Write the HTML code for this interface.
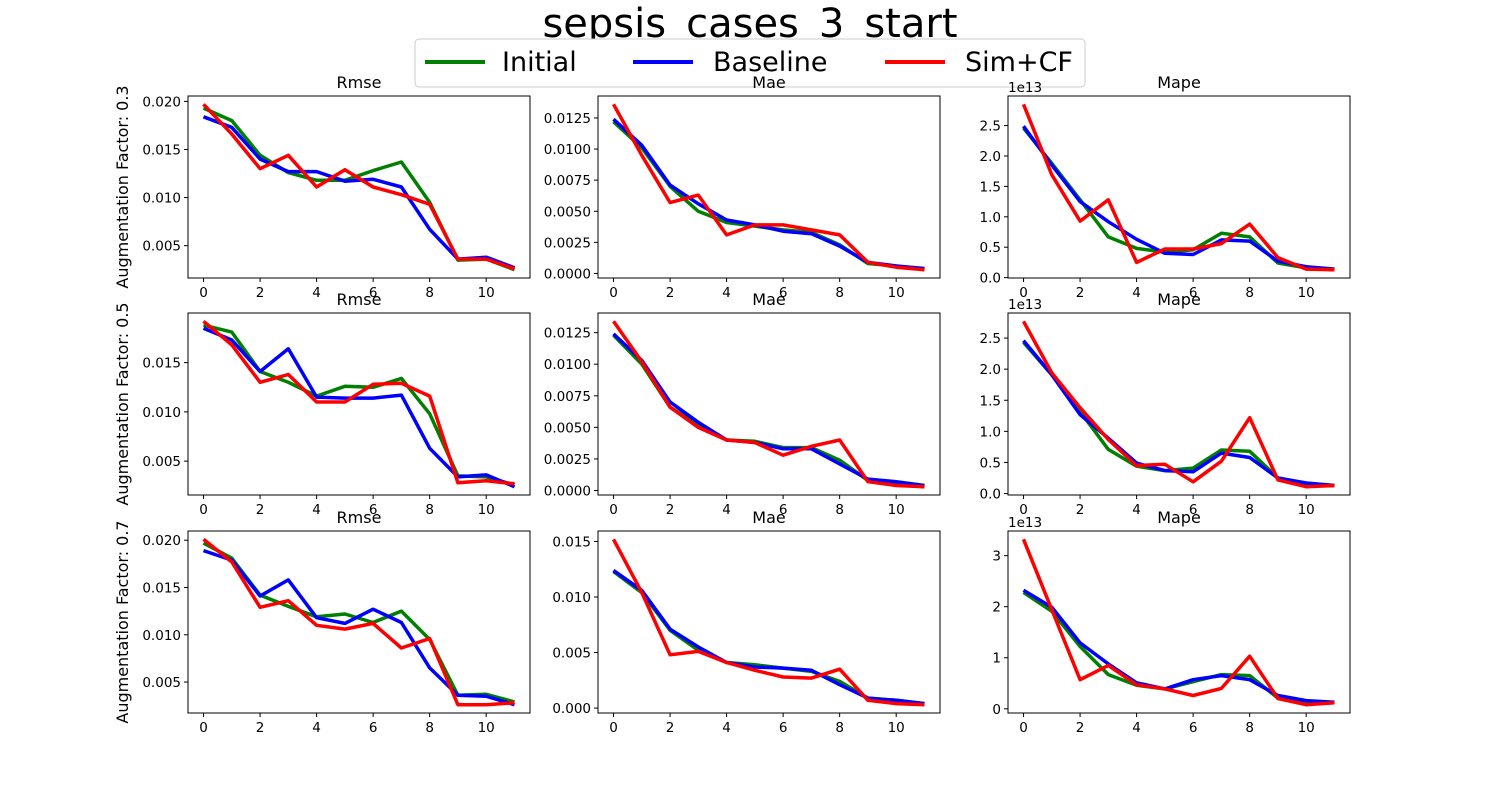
<!DOCTYPE html>
<html><head><meta charset="utf-8"><style>
html,body{margin:0;padding:0;background:#fff;}
svg{display:block;font-family:"DejaVu Sans","Liberation Sans",sans-serif;}
</style></head><body>
<svg id="fig" width="1500" height="800" viewBox="0 0 1500 800">
<text x="750" y="37" text-anchor="middle" font-size="40">sepsis_cases_3_start</text>
<g>
<rect x="415" y="39" width="670" height="48" rx="4" fill="#fff" stroke="#ccc"/>
<g><line x1="425" y1="62" x2="485" y2="62" stroke="green" stroke-width="4"/><text x="502" y="71" font-size="27">Initial</text></g>
<g><line x1="633" y1="62" x2="693" y2="62" stroke="blue" stroke-width="4"/><text x="713" y="71" font-size="27">Baseline</text></g>
<g><line x1="885" y1="62" x2="945" y2="62" stroke="red" stroke-width="4"/><text x="965" y="71" font-size="27">Sim+CF</text></g>
</g>
</svg>
<script>
const xCats=[0,1,2,3,4,5,6,7,8,9,10,11];
const xTicks=[0,2,4,6,8,10];
const rowLabels=["Augmentation Factor: 0.3","Augmentation Factor: 0.5","Augmentation Factor: 0.7"];
const colTitles=["Rmse","Mae","Mape"];
// Row 0.3
const rmse3Init=[0.0193,0.0180,0.0144,0.0126,0.0118,0.0118,0.0128,0.0137,0.0095,0.0035,0.0036,0.0025];
const rmse3Base=[0.0184,0.0173,0.0140,0.0127,0.0127,0.0117,0.0119,0.0111,0.0067,0.0036,0.0038,0.0027];
const rmse3Sim=[0.0197,0.0166,0.0130,0.0144,0.0111,0.0129,0.0111,0.0103,0.0093,0.0036,0.0036,0.0026];
const mae3Init=[0.0122,0.0101,0.0070,0.0050,0.0041,0.0038,0.0035,0.0033,0.0023,0.0008,0.0006,0.0003];
const mae3Base=[0.0124,0.0103,0.0071,0.0056,0.0043,0.0039,0.0034,0.0032,0.0022,0.0009,0.0006,0.0004];
const mae3Sim=[0.0136,0.0095,0.0057,0.0063,0.0031,0.0039,0.0039,0.0035,0.0031,0.0009,0.0005,0.0003];
const mape3Init=[2.46,1.88,1.28,0.67,0.48,0.42,0.46,0.73,0.67,0.24,0.16,0.13];
const mape3Base=[2.49,1.85,1.25,0.92,0.63,0.40,0.38,0.62,0.60,0.27,0.18,0.14];
const mape3Sim=[2.85,1.69,0.93,1.28,0.25,0.47,0.47,0.56,0.88,0.33,0.14,0.13];
// Row 0.5
const rmse5Init=[0.0188,0.0181,0.0141,0.0130,0.0116,0.0126,0.0125,0.0134,0.0098,0.0035,0.0034,0.0026];
const rmse5Base=[0.0185,0.0173,0.0141,0.0164,0.0115,0.0114,0.0114,0.0117,0.0063,0.0034,0.0036,0.0024];
const rmse5Sim=[0.0192,0.0168,0.0130,0.0138,0.0110,0.0110,0.0128,0.0129,0.0116,0.0028,0.0030,0.0027];
const mae5Init=[0.0123,0.0100,0.0066,0.0052,0.0040,0.0039,0.0034,0.0034,0.0024,0.0008,0.0005,0.0003];
const mae5Base=[0.0124,0.0103,0.0070,0.0054,0.0040,0.0038,0.0033,0.0033,0.0021,0.0009,0.0007,0.0004];
const mae5Sim=[0.0134,0.0102,0.0066,0.0050,0.0040,0.0038,0.0028,0.0035,0.0040,0.0007,0.0004,0.0003];
const mape5Init=[2.43,1.91,1.32,0.71,0.44,0.37,0.41,0.70,0.68,0.25,0.16,0.13];
const mape5Base=[2.46,1.91,1.27,0.89,0.49,0.37,0.35,0.65,0.58,0.25,0.17,0.13];
const mape5Sim=[2.77,1.94,1.38,0.87,0.45,0.47,0.19,0.52,1.22,0.22,0.11,0.13];
// Row 0.7
const rmse7Init=[0.0197,0.0181,0.0142,0.0130,0.0119,0.0122,0.0113,0.0125,0.0095,0.0036,0.0037,0.0029];
const rmse7Base=[0.0189,0.0179,0.0141,0.0158,0.0118,0.0112,0.0127,0.0113,0.0065,0.0036,0.0035,0.0026];
const rmse7Sim=[0.0201,0.0177,0.0129,0.0136,0.0110,0.0106,0.0112,0.0086,0.0096,0.0026,0.0026,0.0028];
const mae7Init=[0.0123,0.0104,0.0070,0.0052,0.0041,0.0039,0.0036,0.0033,0.0024,0.0009,0.0007,0.0004];
const mae7Base=[0.0124,0.0106,0.0071,0.0055,0.0041,0.0037,0.0036,0.0034,0.0021,0.0009,0.0007,0.0004];
const mae7Sim=[0.0152,0.0104,0.0048,0.0051,0.0041,0.0034,0.0028,0.0027,0.0035,0.0007,0.0004,0.0003];
const mape7Init=[2.28,1.91,1.22,0.67,0.46,0.39,0.53,0.67,0.65,0.21,0.15,0.12];
const mape7Base=[2.32,1.99,1.29,0.88,0.51,0.39,0.57,0.65,0.57,0.26,0.16,0.13];
const mape7Sim=[3.32,1.94,0.57,0.85,0.47,0.39,0.26,0.40,1.03,0.20,0.08,0.12];
// Y tick labels
const rmseTicksA=["0.005","0.010","0.015","0.020"];
const rmseTicksB=["0.005","0.010","0.015"];
const maeTicksA=["0.0000","0.0025","0.0050","0.0075","0.0100","0.0125"];
const maeTicksB=["0.000","0.005","0.010","0.015"];
const mapeTicksA=["0.0","0.5","1.0","1.5","2.0","2.5"];
const mapeTicksB=["0","1","2","3"];

const panels=[
 [[rmse3Init,rmse3Base,rmse3Sim,rmseTicksA],[mae3Init,mae3Base,mae3Sim,maeTicksA],[mape3Init,mape3Base,mape3Sim,mapeTicksA]],
 [[rmse5Init,rmse5Base,rmse5Sim,rmseTicksB],[mae5Init,mae5Base,mae5Sim,maeTicksA],[mape5Init,mape5Base,mape5Sim,mapeTicksA]],
 [[rmse7Init,rmse7Base,rmse7Sim,rmseTicksA],[mae7Init,mae7Base,mae7Sim,maeTicksB],[mape7Init,mape7Base,mape7Sim,mapeTicksB]]
];
const NS="http://www.w3.org/2000/svg";
const svg=document.getElementById('fig');
function mk(tag,attrs,parent){const e=document.createElementNS(NS,tag);for(const k in attrs)e.setAttribute(k,attrs[k]);parent.appendChild(e);return e;}
const colX=[188,598,1008], rowY=[96,313,531], W=342, H=182;
const colors=["green","blue","red"], sNames=["initial","baseline","simcf"];
for(let r=0;r<3;r++){
  const lbl=mk('text',{x:0,y:0,'font-size':16,'text-anchor':'middle',transform:`translate(128,${rowY[r]+H/2}) rotate(-90)`},svg);
  lbl.textContent=rowLabels[r];
  
  
  for(let c=0;c<3;c++){
    const [a,b,s,ticks]=panels[r][c];
    const g=mk('g',{},svg);
    
    
    const x0=colX[c], y0=rowY[r];
    const all=a.concat(b,s);
    const mn=Math.min(...all), mx=Math.max(...all), rg=mx-mn;
    const lo=mn-rg*0.05, hi=mx+rg*0.05;
    const sx=v=>x0+(v+0.55)/12.1*W;
    const sy=v=>y0+H-(v-lo)/(hi-lo)*H;
    const t=mk('text',{x:x0+W/2,y:y0-8,'font-size':16,'text-anchor':'middle'},g);
    t.textContent=colTitles[c];
    
    
    xTicks.forEach(v=>{
      const X=sx(v);
      mk('line',{x1:X,y1:y0+H,x2:X,y2:y0+H+4,stroke:'#000','stroke-width':1},g);
      const tx=mk('text',{x:X,y:y0+H+19,'font-size':13.5,'text-anchor':'middle'},g);
      tx.textContent=v;
      
      
    });
    ticks.forEach(lab=>{
      const v=parseFloat(lab);
      const Y=sy(v);
      if(Y<y0-0.5||Y>y0+H+0.5)return;
      mk('line',{x1:x0-4,y1:Y,x2:x0,y2:Y,stroke:'#000','stroke-width':1},g);
      const ty=mk('text',{x:x0-7,y:Y+5,'font-size':13.5,'text-anchor':'end'},g);
      ty.textContent=lab;
      
      
    });
    if(c===2){
      const e=mk('text',{x:x0,y:y0-4,'font-size':13.5},g);
      e.textContent='1e13';
      
      
    }
    [a,b,s].forEach((ser,i)=>{
      const pts=ser.map((v,j)=>sx(xCats[j]).toFixed(1)+','+sy(v).toFixed(1)).join(' ');
      const pl=mk('polyline',{points:pts,fill:'none',stroke:colors[i],'stroke-width':3.5,'stroke-linejoin':'round'},g);
      
      
    });
    mk('rect',{x:x0,y:y0,width:W,height:H,fill:'none',stroke:'#000','stroke-width':1},g);
  }
}
</script>
</body></html>
